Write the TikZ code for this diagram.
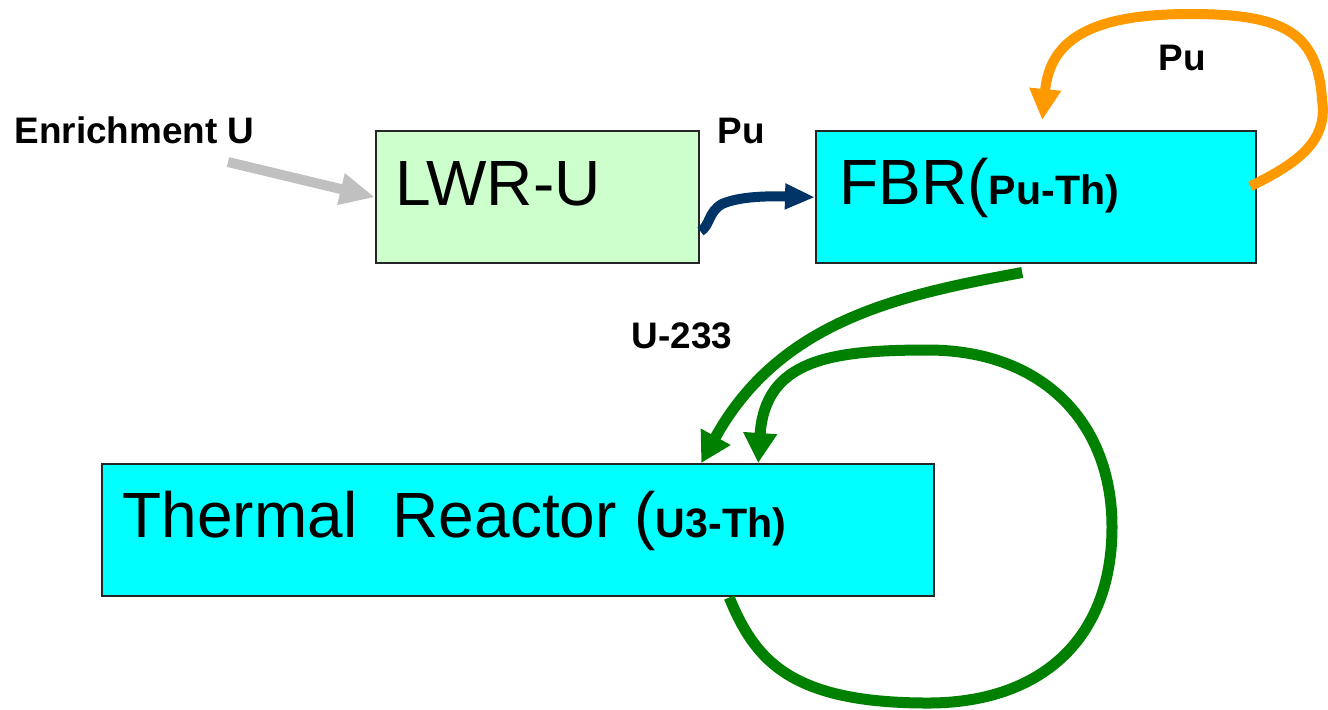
\documentclass[tikz,border=0pt]{standalone}
\usepackage{fontspec}
\setmainfont{Liberation Sans}
\usepackage{tikz}
\usetikzlibrary{arrows.meta, positioning, calc}
\definecolor{lwrgreen}{HTML}{CCFFCC}
\definecolor{reactorcyan}{HTML}{00FFFF}
\definecolor{feedgray}{HTML}{C0C0C0}
\definecolor{punavy}{HTML}{003366}
\definecolor{puorange}{HTML}{FF9900}
\definecolor{loopgreen}{HTML}{008000}
\newcommand{\fuelmix}[1]{{\fontsize{11.7}{13}\selectfont\bfseries #1}}

\begin{document}
\begin{tikzpicture}[
    % Styles
    box/.style={rectangle, draw=black!85, line width=0.7pt, anchor=north west, minimum height=1.32cm, inner sep=0pt},
    bigtext/.style={anchor=base west, inner sep=0pt, font=\fontsize{18.2}{20}\selectfont},
    flowlabel/.style={anchor=base west, inner sep=0pt, font=\fontsize{10.5}{12}\selectfont\bfseries},
    flow/.style={line width=0.10cm},
    greenarrow/.style={flow, line width=0.11cm, loopgreen, -{Triangle[length=0.30cm, width=0.32cm]}},
]

\useasboundingbox (0,0) rectangle (13.28,-7.09);

% === REACTOR BOXES ===
\node[box, fill=lwrgreen, minimum width=3.23cm] (lwr) at (3.75,-1.30) {};
\node[box, fill=reactorcyan, minimum width=4.40cm] (fbr) at (8.15,-1.30) {};
\node[box, fill=reactorcyan, minimum width=8.32cm] (thermal) at (1.01,-4.63) {};

\node[bigtext] (lwrtext) at ([shift={(0.20,-0.75)}]lwr.north west) {LWR-U};
\node[bigtext] (fbrtext) at ([shift={(0.24,-0.74)}]fbr.north west) {FBR(\fuelmix{Pu-Th)}};
\node[bigtext] (thermaltext) at ([shift={(0.21,-0.74)}]thermal.north west) {Thermal\ \ Reactor (\fuelmix{U3-Th)}};

% === FLOW LABELS ===
\node[flowlabel] (enrich) at (0.14,-1.43) {Enrichment U};
\node[flowlabel] (pulwr) at (7.17,-1.43) {Pu};
\node[flowlabel] (purecycle) at (11.58,-0.70) {Pu};
\node[flowlabel] (u233) at (6.31,-3.48) {U-233};

% === ARROWS ===
\coordinate (feedin) at (2.28,-1.62);
\draw[flow, feedgray, -{Triangle[length=0.35cm, width=0.30cm]}] (feedin) -- (lwr.west);

\draw[flow, punavy, -{Triangle[length=0.30cm, width=0.24cm]}] ([yshift=-0.34cm]lwr.east)
    .. controls (7.10,-2.26) and (7.08,-2.12) .. (7.22,-2.04)
    .. controls (7.40,-1.96) and (7.70,-1.96) .. (fbr.west);

% Pu recycle into FBR
\draw[flow, puorange, -{Triangle[length=0.31cm, width=0.30cm]}] ([shift={(-0.07,0.11)}]fbr.east)
    .. controls (13.00,-1.62) and (13.28,-1.40) .. (13.22,-1.00)
    .. controls (13.18,-0.30) and (12.80,-0.14) .. (11.90,-0.14)
    .. controls (10.90,-0.14) and (10.50,-0.40) .. ([shift={(0.06,0.10)}]fbr.north);

% U-233 to thermal reactor
\draw[greenarrow] ([shift={(-0.14,-0.08)}]fbr.south)
    .. controls (9.00,-2.95) and (7.80,-3.20) .. ([xshift=1.83cm]thermal.north);

% Thermal self loop
\draw[greenarrow] ([xshift=2.11cm]thermal.south)
    .. controls (7.55,-6.60) and (7.90,-7.03) .. (9.28,-7.03)
    .. controls (10.40,-7.03) and (11.12,-6.40) .. (11.12,-5.27)
    .. controls (11.12,-4.20) and (10.40,-3.50) .. (9.28,-3.50)
    .. controls (8.30,-3.50) and (7.65,-3.60) .. ([xshift=2.40cm]thermal.north);

\end{tikzpicture}
\end{document}
